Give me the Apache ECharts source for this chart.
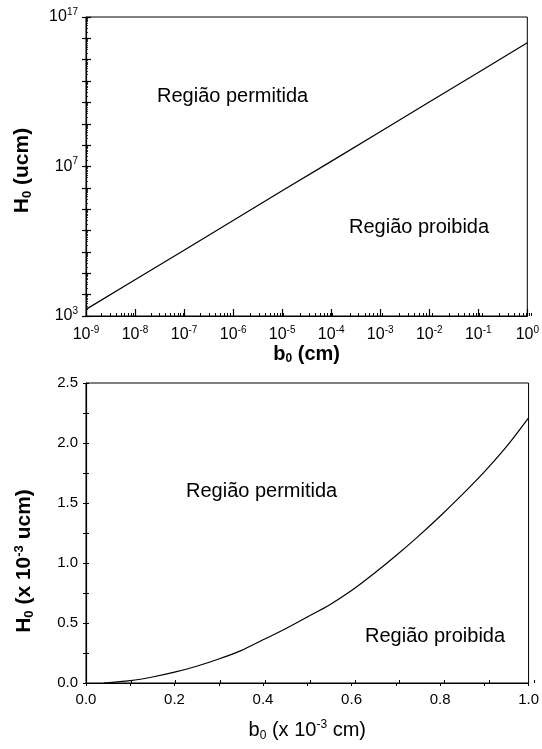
<!DOCTYPE html>
<html>
<head>
<meta charset="utf-8">
<script src="https://cdn.jsdelivr.net/npm/echarts@6/dist/echarts.min.js"></script>
<style>
html,body{margin:0;padding:0;background:#fff;}
#chart{width:542px;height:749px;}
</style>
</head>
<body>
<div id="chart"></div>
<script>
// ---------- DATA ----------
// Top panel (log-log): b0 (cm) vs H0 (ucm)
const topB = [1e-9, 1e-8, 1e-7, 1e-6, 1e-5, 1e-4, 1e-3, 1e-2, 1e-1, 1];
const topH = [2.04e3, 5.01e4, 1.20e6, 2.95e7, 7.24e8, 1.74e10, 4.27e11, 1.05e13, 2.51e14, 6.17e15];
// Bottom panel (linear): b0 (x10^-3 cm) vs H0 (x10^-3 ucm)
const botB = [0.04, 0.1, 0.15, 0.2, 0.25, 0.3, 0.35, 0.4, 0.45, 0.5, 0.55, 0.6, 0.65, 0.7, 0.75, 0.8, 0.85, 0.9, 0.95, 1.0];
const botH = [0.0, 0.02, 0.05, 0.09, 0.14, 0.2, 0.27, 0.36, 0.45, 0.55, 0.65, 0.77, 0.91, 1.06, 1.22, 1.39, 1.57, 1.76, 1.97, 2.21];

// Tick values / labels
const topXMajor = [1e-9, 1e-8, 1e-7, 1e-6, 1e-5, 1e-4, 1e-3, 1e-2, 1e-1, 1];
const topXLabels = ['-9', '-8', '-7', '-6', '-5', '-4', '-3', '-2', '-1', '0'];
const topYMajor = [1e3, 1e4, 1e5, 1e6, 1e7, 1e8, 1e9, 1e10, 1e11, 1e12, 1e13, 1e14, 1e15, 1e16, 1e17];
const topYLabelValues = [1e3, 1e10, 1e17];
const topYLabels = ['3', '7', '17'];
const botXLabelValues = [0, 0.2, 0.4, 0.6, 0.8, 1.0];
const botXTickValues = [0, 0.1, 0.2, 0.3, 0.4, 0.5, 0.6, 0.7, 0.8, 0.9, 1.0];
const botYLabelValues = [0, 0.5, 1.0, 1.5, 2.0, 2.5];
const botYTickValues = [0, 0.25, 0.5, 0.75, 1.0, 1.25, 1.5, 1.75, 2.0, 2.25, 2.5];
const regionTexts = ['Região permitida', 'Região proibida'];

// minor log ticks (2..9 per decade)
const topXMinor = [];
for (let e = -9; e < 0; e++) for (let m = 2; m <= 9; m++) topXMinor.push(m * Math.pow(10, e));
const topYMinor = [];
for (let e = 3; e < 17; e++) for (let m = 2; m <= 9; m++) topYMinor.push(m * Math.pow(10, e));

// ---------- CHART ----------
const FONT = '"Liberation Sans", Arial, sans-serif';
const chart = echarts.init(document.getElementById('chart'), null, {renderer: 'canvas'});

const topRect = {left: 86, top: 17, width: 448, height: 299};
const botRect = {left: 86, top: 383, width: 448, height: 300};

const supRich = {
  b: {fontSize: 16, fontFamily: FONT, color: '#000'},
  s: {fontSize: 10, fontFamily: FONT, color: '#000', padding: [0, 0, 10, 0]}
};

const black = '#000';
const hiddenAxisBase = {
  axisLine: {show: false}, axisLabel: {show: false}, splitLine: {show: false}
};
function idxOf(arr, v) {
  return arr.findIndex(t => Math.abs(Math.log10(t) - Math.log10(v)) < 1e-6);
}

const option = {
  backgroundColor: '#fff',
  animation: false,
  grid: [
    Object.assign({show: true, borderColor: black, borderWidth: 1, backgroundColor: 'transparent'}, topRect),
    Object.assign({show: false}, topRect),
    Object.assign({show: false}, topRect),
    Object.assign({show: true, borderColor: black, borderWidth: 1, backgroundColor: 'transparent'}, botRect),
    Object.assign({show: false}, botRect)
  ],
  xAxis: [
    { // 0 top main
      type: 'log', logBase: 10, gridIndex: 0, min: 1e-9, max: 1,
      name: 'b{sub|0} (cm)', nameLocation: 'middle', nameGap: 27,
      nameTextStyle: {fontSize: 20, fontWeight: 'bold', fontFamily: FONT, color: black,
        rich: {sub: {fontSize: 12, fontWeight: 'bold', fontFamily: FONT, color: black, padding: [10, 0, 0, 0]}}},
      axisLine: {lineStyle: {color: black, width: 1.2}},
      axisTick: {inside: true, length: 7, customValues: topXMajor, lineStyle: {color: black, width: 1.2}},
      axisLabel: {customValues: topXMajor, margin: 9,
        formatter: v => '{b|10}{s|' + topXLabels[idxOf(topXMajor, v)] + '}',
        rich: supRich},
      splitLine: {show: false}, minorTick: {show: false}
    },
    Object.assign({ // 1 top minor x ticks
      type: 'log', logBase: 10, gridIndex: 1, min: 1e-9, max: 1,
      axisTick: {inside: true, length: 3, customValues: topXMinor, lineStyle: {color: black, width: 1}}
    }, hiddenAxisBase),
    Object.assign({ // 2 unused
      type: 'log', logBase: 10, gridIndex: 2, min: 1e-9, max: 1, show: false
    }, hiddenAxisBase),
    { // 3 bottom main
      type: 'value', gridIndex: 3, min: 0, max: 1,
      name: 'b{sub|0} (x 10{sup|-3} cm)', nameLocation: 'middle', nameGap: 36,
      nameTextStyle: {fontSize: 20, fontFamily: FONT, color: black,
        rich: {sub: {fontSize: 12, fontFamily: FONT, color: black, padding: [11, 0, 0, 0]},
               sup: {fontSize: 12, fontFamily: FONT, color: black, padding: [0, 0, 11, 0]}}},
      axisLine: {lineStyle: {color: black, width: 1.2}},
      axisTick: {inside: false, length: 3, customValues: botXTickValues, lineStyle: {color: black}},
      axisLabel: {customValues: botXLabelValues, margin: 9, fontSize: 15, fontFamily: FONT, color: black,
        formatter: v => v.toFixed(1)},
      splitLine: {show: false}
    },
    Object.assign({ // 4 bottom x inside ticks
      type: 'value', gridIndex: 4, min: 0, max: 1,
      axisTick: {inside: true, length: 3, customValues: botXTickValues, lineStyle: {color: black}}
    }, hiddenAxisBase)
  ],
  yAxis: [
    { // 0 top main
      type: 'log', logBase: 10, gridIndex: 0, min: 1e3, max: 1e17,
      name: 'H{sub|0} (ucm)', nameLocation: 'middle', nameGap: 52, nameRotate: 90,
      nameTextStyle: {fontSize: 21, fontWeight: 'bold', fontFamily: FONT, color: black, padding: [0, 8, 0, 0],
        rich: {sub: {fontSize: 13, fontWeight: 'bold', fontFamily: FONT, color: black, padding: [10, 0, 0, 0]}}},
      axisLine: {lineStyle: {color: black, width: 1.2}},
      axisTick: {inside: false, length: 4, customValues: topYMajor, lineStyle: {color: black, width: 1.2}},
      axisLabel: {customValues: topYLabelValues, margin: 8,
        formatter: v => '{b|10}{s|' + topYLabels[idxOf(topYLabelValues, v)] + '}',
        rich: supRich},
      splitLine: {show: false}, minorTick: {show: false}
    },
    Object.assign({ // 1 top y inside major ticks
      type: 'log', logBase: 10, gridIndex: 1, min: 1e3, max: 1e17,
      axisTick: {inside: true, length: 5, customValues: topYMajor, lineStyle: {color: black, width: 1.2}}
    }, hiddenAxisBase),
    Object.assign({ // 2 top y minor ticks
      type: 'log', logBase: 10, gridIndex: 2, min: 1e3, max: 1e17,
      axisTick: {inside: true, length: 2, customValues: topYMinor, lineStyle: {color: black, width: 0.8}}
    }, hiddenAxisBase),
    { // 3 bottom main
      type: 'value', gridIndex: 3, min: 0, max: 2.5,
      name: 'H{sub|0} (x 10{sup|-3} ucm)', nameLocation: 'middle', nameGap: 50, nameRotate: 90,
      nameTextStyle: {fontSize: 21, fontWeight: 'bold', fontFamily: FONT, color: black, padding: [0, 56, 0, 0],
        rich: {sub: {fontSize: 13, fontWeight: 'bold', fontFamily: FONT, color: black, padding: [10, 0, 0, 0]},
               sup: {fontSize: 13, fontWeight: 'bold', fontFamily: FONT, color: black, padding: [0, 0, 10, 0]}}},
      axisLine: {lineStyle: {color: black, width: 1.2}},
      axisTick: {inside: false, length: 3, customValues: botYTickValues, lineStyle: {color: black}},
      axisLabel: {customValues: botYLabelValues, margin: 8, fontSize: 15, fontFamily: FONT, color: black,
        formatter: v => v.toFixed(1)},
      splitLine: {show: false}
    },
    Object.assign({ // 4 bottom y inside ticks
      type: 'value', gridIndex: 4, min: 0, max: 2.5,
      axisTick: {inside: true, length: 3, customValues: botYTickValues, lineStyle: {color: black}}
    }, hiddenAxisBase)
  ],
  series: [
    {
      type: 'line', xAxisIndex: 0, yAxisIndex: 0,
      data: topB.map((b, i) => [b, topH[i]]),
      showSymbol: false, lineStyle: {color: black, width: 1.2}, silent: true
    },
    {
      type: 'line', xAxisIndex: 3, yAxisIndex: 3,
      data: botB.map((b, i) => [b, botH[i]]),
      smooth: 0.3, showSymbol: false, lineStyle: {color: black, width: 1.2}, silent: true
    }
  ],
  graphic: [
    {type: 'text', left: 157, top: 86, style: {text: regionTexts[0], font: '20px ' + FONT, fill: black}},
    {type: 'text', left: 349, top: 217, style: {text: regionTexts[1], font: '20px ' + FONT, fill: black}},
    {type: 'text', left: 186, top: 481, style: {text: regionTexts[0], font: '20px ' + FONT, fill: black}},
    {type: 'text', left: 365, top: 626, style: {text: regionTexts[1], font: '20px ' + FONT, fill: black}}
  ]
};
chart.setOption(option);
</script>
</body>
</html>
